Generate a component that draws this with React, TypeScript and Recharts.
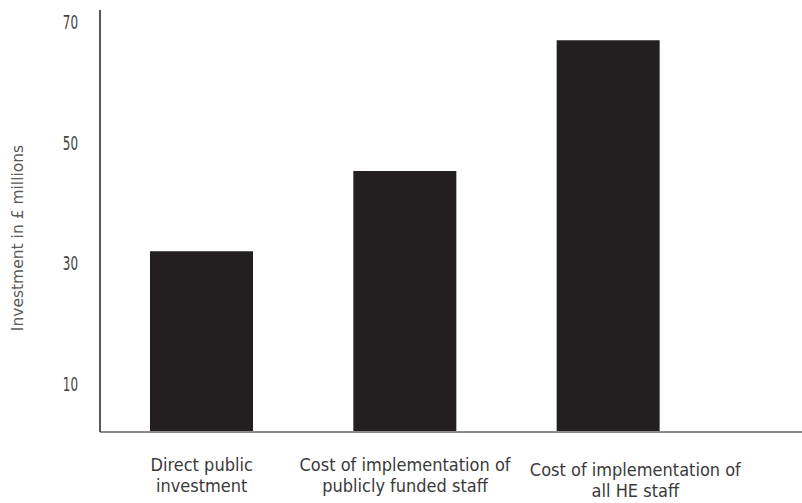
import { BarChart, Bar, XAxis, YAxis } from 'recharts';

const categories = [
  'Direct public investment',
  'Cost of implementation of publicly funded staff',
  'Cost of implementation of all HE staff',
];
const tickLines = [
  ['Direct public', 'investment'],
  ['Cost of implementation of', 'publicly funded staff'],
  ['Cost of implementation of', 'all HE staff'],
];
const investment = [32, 45.3, 67];
const yTicks = [10, 30, 50, 70];

const data = categories.map((name, i) => ({ name, value: investment[i] }));

const LABEL_FONT = "'DejaVu Sans Condensed', 'DejaVu Sans', sans-serif";

function CategoryTick({ x, y, index }: any) {
  const lines = tickLines[index] || [];
  // the last label sits a little lower and to the right so it clears its neighbour
  const isLast = index === tickLines.length - 1;
  const shiftX = isLast ? 27 : 0;
  const shiftY = isLast ? 5 : 0;
  return (
    <g transform={`translate(${x + shiftX},${y + shiftY})`}>
      {lines.map((line, i) => (
        <text
          key={i}
          x={0}
          y={i * 21 + 31}
          textAnchor="middle"
          fill="#3a3a3a"
          fontSize={18}
          fontFamily={LABEL_FONT}
          fontStretch="condensed"
        >
          {line}
        </text>
      ))}
    </g>
  );
}

function ValueTick({ x, y, payload }: any) {
  // narrow, tall numerals
  return (
    <g transform={`translate(${x},${y + 7}) scale(0.7,1)`}>
      <text
        x={0}
        y={0}
        textAnchor="end"
        fill="#444"
        fontSize={19}
        fontFamily={LABEL_FONT}
      >
        {payload.value}
      </text>
    </g>
  );
}

export default function App() {
  return (
    <div style={{ position: 'absolute', left: 0, top: 0, background: '#fff' }}>
      <BarChart
        width={802}
        height={503}
        data={data}
        margin={{ top: 10, right: 0, left: 0, bottom: 0 }}
      >
        <XAxis
          dataKey="name"
          height={71}
          interval={0}
          tick={<CategoryTick />}
          tickLine={false}
          axisLine={{ stroke: '#8c8c8c', strokeWidth: 2 }}
          padding={{ left: 0, right: 92 }}
        />
        <YAxis
          width={100}
          domain={[2, 72]}
          ticks={yTicks}
          allowDataOverflow
          tick={<ValueTick />}
          tickLine={false}
          tickSize={0}
          tickMargin={22}
          axisLine={{ stroke: '#231f20', strokeWidth: 1.5 }}
          label={{
            content: () => (
              <text
                transform="translate(17,238) rotate(-90)"
                dy={6}
                textAnchor="middle"
                fill="#5a5a5a"
                fontSize={15.5}
                fontFamily="'DejaVu Sans', sans-serif"
              >
                Investment in £ millions
              </text>
            ),
          }}
        />
        <Bar dataKey="value" fill="#231f20" barSize={103} isAnimationActive={false} />
      </BarChart>
    </div>
  );
}
